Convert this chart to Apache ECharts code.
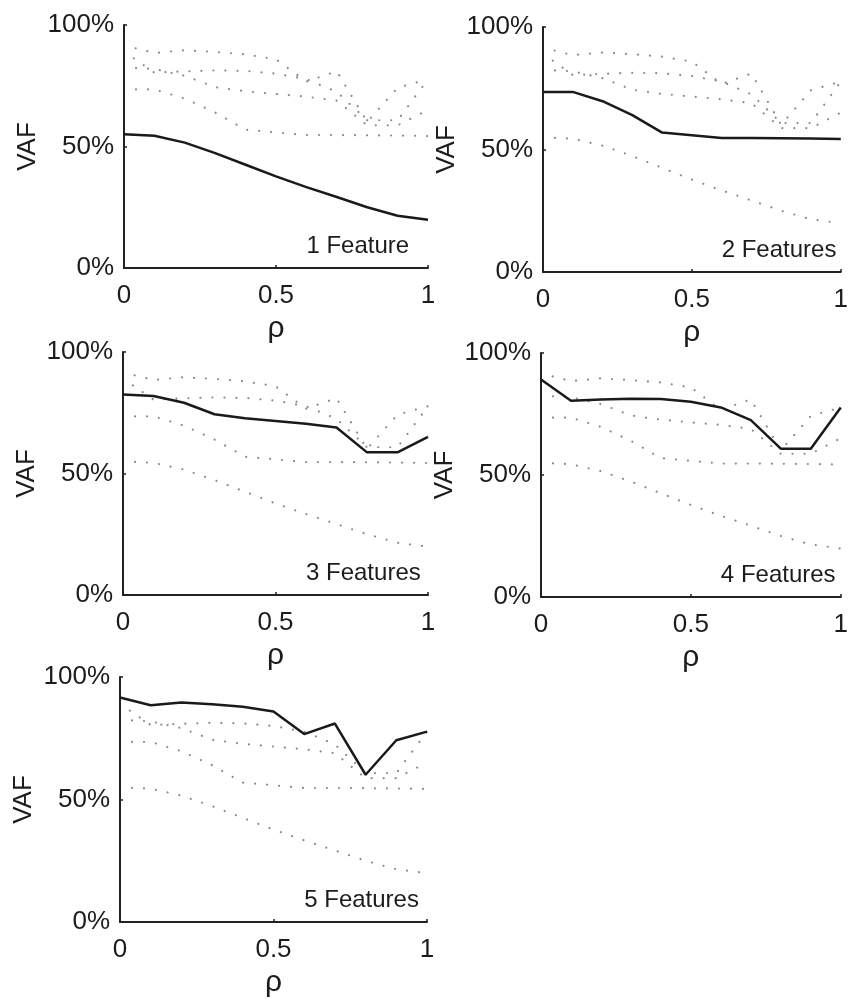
<!DOCTYPE html>
<html>
<head>
<meta charset="utf-8">
<script src="https://cdn.jsdelivr.net/npm/echarts@6/dist/echarts.min.js"></script>
<style>
  html, body { margin: 0; padding: 0; background: #ffffff; }
  #chart { width: 851px; height: 999px; }
</style>
</head>
<body>
<div id="chart"></div>
<script>
// Correlation values along the x axis
const rho = [0, 0.1, 0.2, 0.3, 0.4, 0.5, 0.6, 0.7, 0.8, 0.9, 1];

// VAF (%) for models with 1..5 features
const vaf1 = [55.0, 54.4, 51.6, 47.3, 42.5, 37.7, 33.3, 29.2, 25.0, 21.5, 19.9];
const vaf2 = [73.5, 73.5, 69.7, 64.0, 56.9, 55.8, 54.7, 54.7, 54.6, 54.5, 54.3];
const vaf3 = [82.5, 81.9, 79.1, 74.4, 72.7, 71.6, 70.5, 68.9, 58.7, 58.7, 65.1];
const vaf4 = [89.1, 80.4, 80.9, 81.3, 81.1, 80.0, 77.7, 72.5, 60.8, 60.8, 77.7];
const vaf5 = [91.6, 88.5, 89.6, 88.9, 87.9, 85.9, 76.7, 81.0, 60.1, 74.2, 77.7];

const panelLabels = ['1 Feature', '2 Features', '3 Features', '4 Features', '5 Features'];
const xTicks = [0, 0.5, 1];
const yTicks = [0, 50, 100];

const allSeries = [vaf1, vaf2, vaf3, vaf4, vaf5];

// Panel boxes in pixels: two columns, three rows
const boxes = [
  { left: 124, top: 25,  width: 304, height: 243 },
  { left: 543, top: 27,  width: 305, height: 245 },
  { left: 123, top: 352, width: 305, height: 243 },
  { left: 541, top: 353, width: 306, height: 244 },
  { left: 120, top: 677, width: 307, height: 245 }
];

const FONT = '"Liberation Sans", Arial, Helvetica, sans-serif';
const TEXT = '#1c1c1c';
const AXIS = '#222222';

const toPairs = vals => rho.map((r, i) => [r, vals[i]]);

const grids = [], xAxes = [], yAxes = [], series = [];

boxes.forEach((b, p) => {
  grids.push({ left: b.left, top: b.top, width: b.width, height: b.height, containLabel: false });

  xAxes.push({
    gridIndex: p, type: 'value', min: xTicks[0], max: xTicks[xTicks.length - 1],
    interval: xTicks[1] - xTicks[0],
    name: 'ρ', nameLocation: 'middle', nameGap: 46,
    nameTextStyle: { fontFamily: FONT, fontSize: 30, color: TEXT },
    axisLine: { show: true, lineStyle: { color: AXIS, width: 2 } },
    axisTick: { show: true, inside: true, length: 3, lineStyle: { color: AXIS, width: 1.5 } },
    axisLabel: { margin: 15, fontFamily: FONT, fontSize: 26, color: TEXT,
                 formatter: v => String(v) },
    splitLine: { show: false }
  });

  yAxes.push({
    gridIndex: p, type: 'value', min: yTicks[0], max: yTicks[yTicks.length - 1],
    interval: yTicks[1] - yTicks[0],
    name: 'VAF', nameLocation: 'middle', nameGap: 83, nameRotate: 90,
    nameTextStyle: { fontFamily: FONT, fontSize: 26, color: TEXT },
    axisLine: { show: true, lineStyle: { color: AXIS, width: 2 } },
    axisTick: { show: true, inside: true, length: 3, lineStyle: { color: AXIS, width: 1.5 } },
    axisLabel: { margin: 10, fontFamily: FONT, fontSize: 26, color: TEXT,
                 formatter: v => v + '%' },
    splitLine: { show: false }
  });

  // the other feature counts as faint dotted references
  allSeries.forEach((vals, s) => {
    if (s === p) return;
    series.push({
      type: 'line', xAxisIndex: p, yAxisIndex: p,
      data: toPairs(vals), symbol: 'none', silent: true, animation: false,
      lineStyle: { color: '#8a8a8a', width: 2.2, type: [0.01, 12], cap: 'round',
                   dashOffset: -12 },
      z: 2
    });
  });

  // the highlighted feature count
  series.push({
    type: 'line', xAxisIndex: p, yAxisIndex: p,
    data: toPairs(allSeries[p]), symbol: 'none', animation: false,
    lineStyle: { color: '#1a1a1a', width: 2.5 },
    z: 3,
    markPoint: {
      symbol: 'circle', symbolSize: 0, animation: false,
      data: [{ coord: [0.6, 9] }],
      label: { show: true, position: 'right', distance: 0, formatter: panelLabels[p],
               fontFamily: FONT, fontSize: 24, color: TEXT }
    }
  });
});

const chart = echarts.init(document.getElementById('chart'), null, { renderer: 'canvas' });
chart.setOption({
  backgroundColor: '#ffffff',
  animation: false,
  grid: grids,
  xAxis: xAxes,
  yAxis: yAxes,
  series: series
});
</script>
</body>
</html>
